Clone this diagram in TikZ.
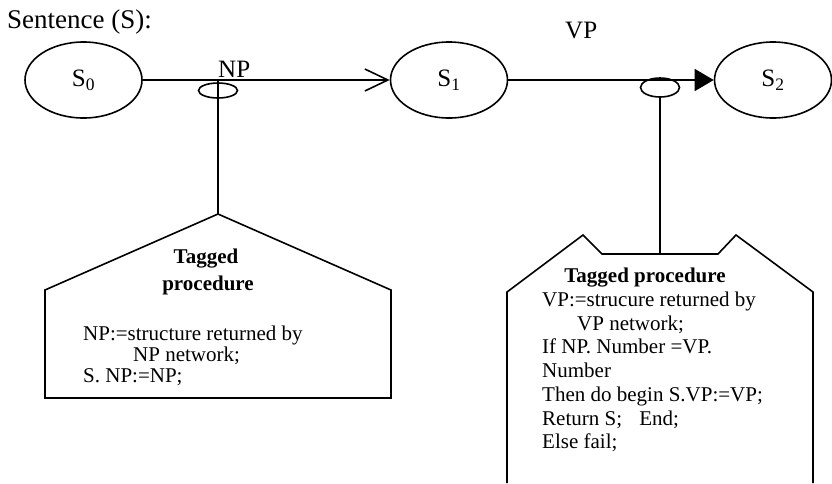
\documentclass[tikz,border=0pt]{standalone}
\usepackage{fontspec}
\setmainfont{Liberation Serif}
\usetikzlibrary{shapes.geometric,arrows.meta}
\newcommand\boxfont{\fontsize{21}{24}\selectfont}
\newcommand\labfont{\fontsize{25}{30}\selectfont}
\newcommand\titfont{\fontsize{27}{32}\selectfont}
\tikzset{
  ln/.style={line width=1.6pt, black},
  state/.style={ellipse, draw, line width=1.6pt, minimum width=117pt, minimum height=76pt, inner sep=0pt, font=\labfont},
  tap/.style={ellipse, draw, line width=1.6pt, minimum width=39pt, inner sep=0pt},
  boxtxt/.style={anchor=base west, inner sep=0pt, font=\boxfont},
  boxhead/.style={anchor=base, inner sep=0pt, font=\boxfont\bfseries},
  lab/.style={anchor=base west, inner sep=0pt, font=\labfont},
}
\begin{document}
\begin{tikzpicture}[x=1pt,y=-1pt]
\useasboundingbox (0,0) rectangle (832,483);
% title
\node[anchor=base west, inner sep=0pt, font=\titfont] (title) at (7,28) {Sentence (S):};
% states
\node[state] (s0) at (83.5,80) {S\textsubscript{0}};
\node[state] (s1) at (449,80) {S\textsubscript{1}};
\node[state] (s2) at (773,80) {S\textsubscript{2}};
% arcs
\draw[ln, -{Straight Barb[length=23pt,width=22pt]}] (s0) -- (s1);
\draw[ln, -{Triangle[length=19pt,width=22pt]}] (s1) -- (s2);
\node[lab] (nplab) at (218,77) {NP};
\node[lab] (vplab) at (565,38) {VP};
% NP tap
\coordinate (nptap) at (218,80);
\node[tap, minimum height=15pt] (npring) at (218,90.5) {};
\coordinate (lapex) at (218,214);
\draw[ln] (nptap) -- (lapex);
% VP tap
\node[tap, minimum height=19pt] (vpring) at (660,87.5) {};
\coordinate (rnotch) at (660,254);
\draw[ln] (vpring.south) -- (rnotch);
% left procedure box
\draw[ln] (45,398) -- (45,290) -- (lapex) -- (391,290) -- (391,398) -- cycle;
\node[boxhead] (lh1) at (206,263) {Tagged};
\node[boxhead] (lh2) at (208,290) {procedure};
\node[boxtxt] (l1) at (83,340) {NP:=structure returned by};
\node[boxtxt] (l2) at (133,361) {NP network;};
\node[boxtxt] (l3) at (83,382) {S. NP:=NP;};
% right procedure box
\draw[ln] (507,483) -- (507,292) -- (583,235) -- (602,254) -- (rnotch) -- (718,254) -- (736,235) -- (813,292) -- (813,483);
\node[boxhead] (rh) at (645,282) {Tagged procedure};
\node[boxtxt] (r1) at (542,306) {VP:=strucure returned by};
\node[boxtxt] (r2) at (577,330) {VP network;};
\node[boxtxt] (r3) at (542,353) {If NP. Number =VP.};
\node[boxtxt] (r4) at (542,377) {Number};
\node[boxtxt] (r5) at (542,401) {Then do begin S.VP:=VP;};
\node[boxtxt] (r6) at (542,425) {Return S;\hspace{12pt} End;};
\node[boxtxt] (r7) at (542,448) {Else fail;};
\end{tikzpicture}
\end{document}
